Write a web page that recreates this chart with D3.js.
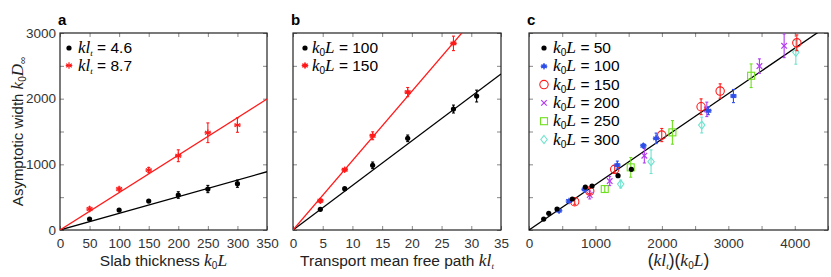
<!DOCTYPE html>
<html>
<head>
<meta charset="utf-8">
<script src="https://d3js.org/d3.v7.min.js"></script>
<style>
body { margin: 0; background: #fff; }
svg { display: block; }
text { font-family: "Liberation Sans", Arial, sans-serif; }
.math { font-family: "Liberation Serif", "Times New Roman", serif; font-style: italic; }
</style>
</head>
<body>
<div id="chart"></div>
<script>
// panel a: width vs slab thickness
const aL = [50, 100, 150, 200, 250, 300];
const aBlack = [167, 304, 441, 533, 624, 705];
const aBlackErr = [15, 15, 15, 50, 55, 55];
const aRed = [320, 624, 913, 1131, 1481, 1598];
const aRedErr = [30, 30, 40, 90, 150, 110];
const aSlopes = [2.535, 5.7];
const aLegend = ["4.6", "8.7"];

// panel b: width vs transport mean free path
const bKlBlack = [4.6, 8.7, 13.4, 19.3, 27, 30.9];
const bBlack = [315, 629, 985, 1396, 1842, 2040];
const bBlackErr = [15, 15, 50, 50, 60, 90];
const bKlRed = [4.6, 8.7, 13.4, 19.3, 27];
const bRed = [446, 918, 1435, 2100, 2842];
const bRedErr = [30, 20, 60, 70, 110];
const bSlopes = [67.9, 105.6];
const bLegend = ["100", "150"];

// panel c: collapse onto (kl)(k0L)
const cLegend = ["50", "100", "150", "200", "250", "300"];
const c50x = [221, 297, 422, 652, 848, 949, 1340, 1541];
const c50y = [167, 254, 320, 472, 654, 670, 827, 924];
const c50e = [10, 10, 10, 15, 15, 15, 15, 20];
const c100x = [452, 602, 838, 1330, 1721, 1913, 2700, 3077];
const c100y = [294, 441, 619, 989, 1283, 1396, 1816, 2040];
const c100e = [20, 20, 40, 60, 30, 80, 60, 100];
const c150x = [688, 914, 1290, 1998, 2590, 2877, 4031];
const c150y = [431, 593, 924, 1446, 1877, 2116, 2851];
const c150e = [40, 40, 60, 100, 120, 110, 120];
const c200x = [914, 1215, 1736, 2676, 3468, 3840];
const c200y = [533, 746, 1131, 1837, 2496, 2805];
const c200e = [60, 70, 110, 110, 110, 180];
const c250x = [1140, 1531, 2158, 3343];
const c250y = [624, 954, 1487, 2349];
const c250e = [50, 150, 180, 180];
const c300x = [1380, 1837, 2600, 4016];
const c300y = [700, 1040, 1598, 2705];
const c300e = [60, 180, 120, 180];
const cSlope = 0.692;

const W = 831, H = 277;
const yTop = 33, yBot = 230;
const svg = d3.select("#chart").append("svg").attr("width", W).attr("height", H);

const colBlack = "#000", colRed = "#ff1a1a", colBlue = "#2f4fe8",
      colPurple = "#b23cf0", colGreen = "#6fe01e", colCyan = "#6fe3cf";

function panel(x0, x1, xmax, xstep, xlabelStep, showY, letter){
    const x = d3.scaleLinear().domain([0, xmax]).range([x0, x1]);
    const y = d3.scaleLinear().domain([0, 3000]).range([yBot, yTop]);
    const g = svg.append("g");
    const tl = 4;
    g.append("g").attr("transform", "translate(0," + yBot + ")")
        .call(d3.axisBottom(x).tickValues(d3.range(0, xmax + 1, xstep)).tickSizeInner(-tl).tickSizeOuter(0).tickPadding(8)
            .tickFormat(d => d % xlabelStep === 0 ? d : ""));
    g.append("g").attr("transform", "translate(0," + yTop + ")")
        .call(d3.axisTop(x).tickValues(d3.range(0, xmax + 1, xstep)).tickSizeInner(-tl).tickSizeOuter(0).tickFormat(""));
    g.append("g").attr("transform", "translate(" + x0 + ",0)")
        .call(d3.axisLeft(y).tickValues(d3.range(0, 3001, 500)).tickSizeInner(-tl).tickSizeOuter(0).tickPadding(4)
            .tickFormat(d => showY && d % 1000 === 0 ? d : ""));
    g.append("g").attr("transform", "translate(" + x1 + ",0)")
        .call(d3.axisRight(y).tickValues(d3.range(0, 3001, 500)).tickSizeInner(-tl).tickSizeOuter(0).tickFormat(""));
    g.selectAll(".domain").remove();
    g.selectAll(".tick line").attr("stroke", "#888");
    g.selectAll(".tick text").attr("font-size", 13.5).attr("fill", "#333")
        .attr("font-family", "Liberation Sans, Arial, sans-serif");
    g.append("rect").attr("x", x0).attr("y", yTop).attr("width", x1 - x0).attr("height", yBot - yTop)
        .attr("fill", "none").attr("stroke", "#222").attr("stroke-width", 1.2);
    svg.append("text").attr("x", x0 - 2).attr("y", 25).attr("font-size", 15).attr("font-weight", "bold")
        .text(letter);
    const clip = "clip" + letter;
    svg.append("clipPath").attr("id", clip).append("rect")
        .attr("x", x0).attr("y", yTop).attr("width", x1 - x0).attr("height", yBot - yTop);
    return {x, y, clip};
}

function fitLine(p, slope, color){
    const xm = p.x.domain()[1];
    svg.append("line").attr("clip-path", "url(#" + p.clip + ")")
        .attr("x1", p.x(0)).attr("y1", p.y(0))
        .attr("x2", p.x(xm)).attr("y2", p.y(slope * xm))
        .attr("stroke", color).attr("stroke-width", 1.3);
}

function errBars(p, xs, ys, es, color){
    const g = svg.append("g").attr("stroke", color).attr("stroke-width", 1.1);
    xs.forEach((v, i) => {
        const cx = p.x(v);
        g.append("line").attr("x1", cx).attr("x2", cx).attr("y1", p.y(ys[i] - es[i])).attr("y2", p.y(ys[i] + es[i]));
        g.append("line").attr("x1", cx - 1.5).attr("x2", cx + 1.5).attr("y1", p.y(ys[i] - es[i])).attr("y2", p.y(ys[i] - es[i]));
        g.append("line").attr("x1", cx - 1.5).attr("x2", cx + 1.5).attr("y1", p.y(ys[i] + es[i])).attr("y2", p.y(ys[i] + es[i]));
    });
}

function marker(g, kind, cx, cy, color){
    if(kind === "dot"){
        g.append("circle").attr("cx", cx).attr("cy", cy).attr("r", 2.6).attr("fill", color);
    } else if(kind === "star" || kind === "dotstar"){
        if(kind === "dotstar") g.append("circle").attr("cx", cx).attr("cy", cy).attr("r", 2.2).attr("fill", color);
        const s = 3.3;
        [0, 60, 120].forEach(a => {
            const r = a * Math.PI / 180;
            g.append("line").attr("x1", cx - s * Math.sin(r)).attr("y1", cy - s * Math.cos(r))
                .attr("x2", cx + s * Math.sin(r)).attr("y2", cy + s * Math.cos(r))
                .attr("stroke", color).attr("stroke-width", 1.2);
        });
        g.append("line").attr("x1", cx - s).attr("x2", cx + s).attr("y1", cy).attr("y2", cy)
            .attr("stroke", color).attr("stroke-width", 1.2);
    } else if(kind === "circle"){
        g.append("circle").attr("cx", cx).attr("cy", cy).attr("r", 4.2).attr("fill", "none")
            .attr("stroke", color).attr("stroke-width", 1.1);
    } else if(kind === "cross"){
        const s = 2.8;
        g.append("path").attr("d", `M${cx - s},${cy - s}L${cx + s},${cy + s}M${cx - s},${cy + s}L${cx + s},${cy - s}`)
            .attr("stroke", color).attr("stroke-width", 1.2);
    } else if(kind === "square"){
        g.append("rect").attr("x", cx - 3.5).attr("y", cy - 3.5).attr("width", 7).attr("height", 7)
            .attr("fill", "none").attr("stroke", color).attr("stroke-width", 1.1);
    } else if(kind === "diamond"){
        const s = 4;
        g.append("path").attr("d", `M${cx},${cy - s}L${cx + s * 0.8},${cy}L${cx},${cy + s}L${cx - s * 0.8},${cy}Z`)
            .attr("fill", "none").attr("stroke", color).attr("stroke-width", 1.1);
    }
}

function points(p, xs, ys, es, kind, color){
    errBars(p, xs, ys, es, color);
    const g = svg.append("g");
    xs.forEach((v, i) => marker(g, kind, p.x(v), p.y(ys[i]), color));
}

function mathText(sel, parts){
    parts.forEach(pt => {
        const t = sel.append("tspan").text(pt.t);
        if(pt.m) t.attr("class", "math");
        if(pt.fs) t.attr("font-size", pt.fs);
        if(pt.sub) t.attr("font-size", pt.sub).attr("dy", 3);
        if(pt.up) t.attr("dy", -3);
    });
}

// panel a
const pa = panel(60, 267, 350, 50, 50, true, "a");
fitLine(pa, aSlopes[0], colBlack);
fitLine(pa, aSlopes[1], colRed);
points(pa, aL, aBlack, aBlackErr, "dot", colBlack);
points(pa, aL, aRed, aRedErr, "star", colRed);

// panel b
const pb = panel(293, 501, 35, 5, 5, false, "b");
fitLine(pb, bSlopes[0], colBlack);
fitLine(pb, bSlopes[1], colRed);
points(pb, bKlBlack, bBlack, bBlackErr, "dot", colBlack);
points(pb, bKlRed, bRed, bRedErr, "dotstar", colRed);

// panel c
const pc = panel(529, 828, 4500, 500, 1000, false, "c");
fitLine(pc, cSlope, colBlack);
const cSeries = [
    [c300x, c300y, c300e, "diamond", colCyan],
    [c250x, c250y, c250e, "square", colGreen],
    [c200x, c200y, c200e, "cross", colPurple],
    [c150x, c150y, c150e, "circle", colRed],
    [c100x, c100y, c100e, "dotstar", colBlue],
    [c50x, c50y, c50e, "dot", colBlack]
];
cSeries.forEach(s => points(pc, s[0], s[1], s[2], s[3], s[4]));

// legends
const lg = svg.append("g");
[[colBlack, "dot"], [colRed, "star"]].forEach((m, i) => {
    const yy = 48 + i * 17.5;
    marker(lg, m[1], 69, yy, m[0]);
    const t = lg.append("text").attr("x", 78).attr("y", yy + 5).attr("font-size", 15.5);
    mathText(t, [{t: "kl", m: true, fs: 17}, {t: "t", m: true, sub: 9}, {t: " = " + aLegend[i], up: true}]);
});
[[colBlack, "dot"], [colRed, "dotstar"]].forEach((m, i) => {
    const yy = 48 + i * 17.5;
    marker(lg, m[1], 305, yy, m[0]);
    const t = lg.append("text").attr("x", 312).attr("y", yy + 5).attr("font-size", 15.5);
    mathText(t, [{t: "k", m: true, fs: 17}, {t: "0", sub: 10}, {t: "L", m: true, fs: 17, up: true}, {t: " = " + bLegend[i]}]);
});
const cMarks = [[colBlack, "dot"], [colBlue, "dotstar"], [colRed, "circle"], [colPurple, "cross"], [colGreen, "square"], [colCyan, "diamond"]];
cMarks.forEach((m, i) => {
    const yy = 48 + i * 18.3;
    marker(lg, m[1], 544, yy, m[0]);
    const t = lg.append("text").attr("x", 553).attr("y", yy + 5).attr("font-size", 15.5);
    mathText(t, [{t: "k", m: true, fs: 17.5}, {t: "0", sub: 10}, {t: "L", m: true, fs: 17.5, up: true}, {t: " = " + cLegend[i]}]);
});

// axis titles
const yl = svg.append("text").attr("transform", "translate(23," + ((yTop + yBot) / 2) + ") rotate(-90)")
    .attr("text-anchor", "middle").attr("font-size", 15).attr("fill", "#222");
mathText(yl, [{t: "Asymptotic width "}, {t: "k", m: true, fs: 17}, {t: "0", sub: 10}, {t: "D", m: true, fs: 17, up: true}, {t: "∞", sub: 10}]);

const xa = svg.append("text").attr("x", (60 + 267) / 2).attr("y", 266).attr("text-anchor", "middle")
    .attr("font-size", 15.5).attr("fill", "#222");
mathText(xa, [{t: "Slab thickness "}, {t: "k", m: true, fs: 17.5}, {t: "0", sub: 10}, {t: "L", m: true, fs: 17.5, up: true}]);

const xb = svg.append("text").attr("x", (293 + 501) / 2).attr("y", 266).attr("text-anchor", "middle")
    .attr("font-size", 15.5).attr("fill", "#222");
mathText(xb, [{t: "Transport mean free path "}, {t: "kl", m: true, fs: 17.5}, {t: "t", m: true, sub: 9}]);

const xc = svg.append("text").attr("x", (529 + 828) / 2).attr("y", 266).attr("text-anchor", "middle")
    .attr("font-size", 17.5).attr("fill", "#222").attr("font-family", "Liberation Serif, serif");
mathText(xc, [{t: "("}, {t: "kl", m: true}, {t: "t", m: true, sub: 9}, {t: ")(", up: true}, {t: "k", m: true}, {t: "0", sub: 10}, {t: "L", m: true, up: true}, {t: ")"}]);
</script>
</body>
</html>
